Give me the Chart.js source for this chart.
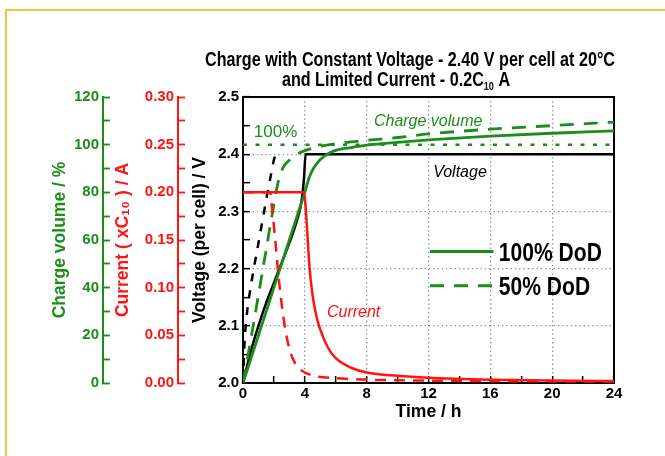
<!DOCTYPE html>
<html><head><meta charset="utf-8">
<script src="https://cdn.jsdelivr.net/npm/chart.js@4.4.1/dist/chart.umd.min.js"></script>
<style>
html,body{margin:0;padding:0;background:#fff;overflow:hidden}
#wrap{position:relative;width:665px;height:456px}
#frame{position:absolute;left:5px;top:9px;width:660px;height:447px;border-left:2px solid #f6c244;border-top:2px solid #f6c244;box-sizing:border-box}
canvas{position:absolute;left:0;top:0}
</style></head><body>
<div id="wrap"><div id="frame"></div><canvas id="c" width="665" height="456"></canvas></div>
<script>
// ---------- data ----------
const titleLine1 = 'Charge with Constant Voltage - 2.40 V per cell at 20°C';
const titleLine2 = ['and Limited Current - 0.2C', '10', ' A'];
const xTitle = 'Time / h';
const yVoltTitle = 'Voltage (per cell) / V';
const yCurTitle = 'Current ( xC₁₀ ) / A';
const yChgTitle = 'Charge volume / %';
const legendLabels = ['100% DoD', '50% DoD'];
const annotationTexts = ['Charge volume', '100%', 'Voltage', 'Current'];

// Voltage, 100% DoD
const tV100 = [0, 0.5, 1, 1.5, 2, 2.5, 3, 3.5, 3.8, 3.95, 4.05, 6, 12, 18, 24];
const vV100 = [2.0, 2.055, 2.1, 2.14, 2.175, 2.21, 2.245, 2.285, 2.32, 2.36, 2.4, 2.4, 2.4, 2.4, 2.4];
// Voltage, 50% DoD
const tV50 = [0, 0.1, 0.25, 0.45, 0.7, 1.0, 1.3, 1.6, 1.85, 2.0, 2.15, 2.25];
const vV50 = [2.0, 2.07, 2.12, 2.16, 2.2, 2.245, 2.29, 2.335, 2.37, 2.39, 2.4, 2.4];
// Charge volume (%), 100% DoD
const tC100 = [0, 1, 2, 3, 3.5, 4, 4.3, 4.6, 5, 5.5, 6, 7, 8, 10, 12, 16, 20, 24];
const cC100 = [0, 20, 40, 60, 70, 80, 86.5, 90.5, 93.8, 96.2, 97.6, 98.8, 99.8, 101, 102, 103.6, 104.8, 105.8];
// Charge volume (%), 50% DoD
const tC50 = [0, 0.5, 1, 1.5, 2, 2.3, 2.6, 3, 3.5, 4, 5, 6, 8, 10, 12, 16, 20, 24];
const cC50 = [0, 18, 37, 56, 75, 85, 90.5, 93.5, 96, 97.5, 99.3, 100.4, 101.8, 103, 104.5, 106.5, 108, 109.5];
// Current (xC10 A), 100% DoD
const tI100 = [0, 3.95, 4.05, 4.15, 4.3, 4.5, 4.75, 5, 5.5, 6, 7, 8, 10, 12, 16, 20, 24];
const iI100 = [0.2, 0.2, 0.185, 0.16, 0.122, 0.092, 0.07, 0.056, 0.037, 0.026, 0.016, 0.011, 0.0075, 0.0055, 0.0035, 0.0025, 0.002];
// Current (xC10 A), 50% DoD
const tI50 = [0, 1.75, 1.9, 2.1, 2.3, 2.5, 2.75, 3.0, 3.3, 3.8, 4.5, 6, 8, 12, 16, 24];
const iI50 = [0.2, 0.2, 0.18, 0.148, 0.112, 0.083, 0.055, 0.036, 0.023, 0.013, 0.008, 0.005, 0.0035, 0.0025, 0.002, 0.0015];
// 100 % reference line
const tRef = [0, 24];
const cRef = [100, 100];

// ---------- styles ----------
const GREEN = '#1c8c1c', RED = '#ff1414', BLACK = '#000000', GRID = '#8a8a8a';
const SANS = "'Liberation Sans', Arial, sans-serif";
const pts = (ts, vs) => ts.map((t, i) => ({x: t, y: vs[i]}));
const tickFont = {family: SANS, size: 15, weight: 'bold'};
const titleFont = {family: SANS, size: 17.5, weight: 'bold'};
const none = 'rgba(0,0,0,0)';
const noPadV = s => { s.paddingTop = 0; s.paddingBottom = 0; };

const lineCommon = {pointRadius: 0, fill: false, cubicInterpolationMode: 'monotone', borderWidth: 2.5};
const datasets = [
  {...lineCommon, label: 'Current 100% DoD', data: pts(tI100, iI100), yAxisID: 'yI', borderColor: RED},
  {...lineCommon, label: 'Current 50% DoD', data: pts(tI50, iI50), yAxisID: 'yI', borderColor: RED, borderDash: [11, 8]},
  {...lineCommon, label: 'Charge 100% DoD', data: pts(tC100, cC100), yAxisID: 'yC', borderColor: GREEN, borderWidth: 2.8},
  {...lineCommon, label: 'Charge 50% DoD', data: pts(tC50, cC50), yAxisID: 'yC', borderColor: GREEN, borderWidth: 2.8, borderDash: [14, 10]},
  {...lineCommon, label: 'Voltage 100% DoD', data: pts(tV100, vV100), yAxisID: 'yV', borderColor: BLACK},
  {...lineCommon, label: 'Voltage 50% DoD', data: pts(tV50, vV50), yAxisID: 'yV', borderColor: BLACK, borderDash: [8, 9]},
  {...lineCommon, label: '100 %', data: pts(tRef, cRef), yAxisID: 'yC', borderColor: GREEN, borderDash: [4, 8.5], borderWidth: 2.5}
];

// draw text horizontally condensed by factor k (left aligned at x)
function condensed(ctx, text, x, y, k) {
  ctx.save(); ctx.translate(x, y); ctx.scale(k, 1);
  ctx.textAlign = 'left'; ctx.fillText(text, 0, 0); ctx.restore();
}

const decor = {
  id: 'decor',
  afterDraw(chart) {
    const {ctx, scales: {x, yV}} = chart;
    ctx.save();
    ctx.textBaseline = 'alphabetic';
    // title
    ctx.fillStyle = '#000';
    const big = `bold 19.5px ${SANS}`, small = `bold 11px ${SANS}`;
    ctx.font = big;
    const wt = ctx.measureText(titleLine1).width;
    const k = 410 / wt;
    condensed(ctx, titleLine1, 410 - 205, 66, k);
    const w1 = ctx.measureText(titleLine2[0]).width * k;
    const w3 = ctx.measureText(titleLine2[2]).width * k;
    ctx.font = small;
    const w2 = ctx.measureText(titleLine2[1]).width * k;
    const sx = 396 - (w1 + w2 + w3) / 2;
    ctx.font = big; condensed(ctx, titleLine2[0], sx, 86, k);
    ctx.font = small; condensed(ctx, titleLine2[1], sx + w1, 90, k);
    ctx.font = big; condensed(ctx, titleLine2[2], sx + w1 + w2, 86, k);

    // annotations
    const ann = [
      {t: 8.47, v: 2.449, color: GREEN, font: `italic 16px ${SANS}`},
      {t: 0.7, v: 2.43, color: GREEN, font: `17px ${SANS}`},
      {t: 12.3, v: 2.361, color: BLACK, font: `italic 16px ${SANS}`},
      {t: 5.43, v: 2.116, color: RED, font: `italic 16px ${SANS}`}
    ];
    ctx.textAlign = 'left';
    ann.forEach((a, i) => {
      ctx.fillStyle = a.color; ctx.font = a.font;
      ctx.fillText(annotationTexts[i], x.getPixelForValue(a.t), yV.getPixelForValue(a.v));
    });

    // legend
    const legendDs = [2, 3];
    const legendV = [2.23, 2.17];
    ctx.font = `bold 26px ${SANS}`;
    const kl = 103 / ctx.measureText(legendLabels[0]).width;
    legendLabels.forEach((lab, i) => {
      const ds = chart.data.datasets[legendDs[i]];
      const y = yV.getPixelForValue(legendV[i]);
      ctx.strokeStyle = ds.borderColor; ctx.lineWidth = 3;
      ctx.setLineDash(ds.borderDash || []);
      ctx.beginPath();
      ctx.moveTo(x.getPixelForValue(12.1), y);
      ctx.lineTo(x.getPixelForValue(16.2), y);
      ctx.stroke();
      ctx.setLineDash([]);
      ctx.fillStyle = '#000';
      condensed(ctx, lab, x.getPixelForValue(16.55), y + 9.5, kl);
    });
    ctx.restore();
  }
};

new Chart(document.getElementById('c'), {
  type: 'line',
  data: {datasets},
  plugins: [decor],
  options: {
    responsive: false, animation: false, parsing: true,
    layout: {padding: {left: 40, right: 51, top: 97, bottom: 33}},
    plugins: {legend: {display: false}, title: {display: false}, tooltip: {enabled: false}},
    scales: {
      x: {
        type: 'linear', position: 'bottom', min: 0, max: 24,
        ticks: {stepSize: 2, autoSkip: false, maxRotation: 0, padding: 9, color: '#000', font: tickFont,
          callback: v => (Math.round(v) % 4 === 0 ? String(Math.round(v)) : '')},
        grid: {color: c => (c.tick && Math.round(c.tick.value) % 4 === 0 && c.tick.value > 0 && c.tick.value < 24) ? GRID : none,
          lineWidth: 1.3, tickLength: -7, tickColor: '#000', tickWidth: 1.5},
        border: {color: '#000', width: 2, dash: [1.3, 3]},
        title: {display: true, text: xTitle, color: '#000', font: titleFont, padding: {top: 0, bottom: 0}},
        afterFit: s => { s.height = 40; s.paddingLeft = 0; s.paddingRight = 0; }
      },
      x2: {
        type: 'linear', position: 'top', min: 0, max: 24,
        ticks: {display: false}, grid: {display: false}, border: {color: '#000', width: 2},
        afterFit: s => { s.height = 0; s.paddingLeft = 0; s.paddingRight = 0; }
      },
      yV: {
        type: 'linear', position: 'left', weight: 0, min: 2.0, max: 2.5,
        ticks: {stepSize: 0.05, autoSkip: false, padding: 11, color: '#000', font: tickFont,
          callback: v => (Math.round(v * 100) % 10 === 0 ? v.toFixed(1) : '')},
        grid: {color: c => {
            if (!c.tick) return none;
            const q = Math.round(c.tick.value * 100);
            return (q % 10 === 0 && q > 200 && q < 250) ? GRID : none;
          }, lineWidth: 1.3, tickLength: -7, tickColor: '#000', tickWidth: 1.5},
        border: {color: '#000', width: 2, dash: [1.3, 3]},
        title: {display: true, text: yVoltTitle, color: '#000', font: titleFont, padding: {top: 11.5, bottom: 0}},
        afterFit: s => { s.width = 65; noPadV(s); }
      },
      yI: {
        type: 'linear', position: 'left', weight: 1, min: 0, max: 0.3,
        ticks: {stepSize: 0.025, autoSkip: false, padding: 11, color: RED, font: tickFont,
          callback: v => (Math.round(v * 1000) % 50 === 0 ? v.toFixed(2) : '')},
        grid: {drawOnChartArea: false, tickLength: -7, tickColor: RED, tickWidth: 1.8},
        border: {color: RED, width: 2},
        title: {display: true, text: yCurTitle, color: RED, font: titleFont, padding: {top: 9.5, bottom: 0}},
        afterFit: s => { s.width = 75; noPadV(s); }
      },
      yC: {
        type: 'linear', position: 'left', weight: 2, min: 0, max: 120,
        ticks: {stepSize: 10, autoSkip: false, padding: 11, color: GREEN, font: tickFont,
          callback: v => (Math.round(v) % 20 === 0 ? String(Math.round(v)) : '')},
        grid: {drawOnChartArea: false, tickLength: -7, tickColor: GREEN, tickWidth: 1.8},
        border: {color: GREEN, width: 2},
        title: {display: true, text: yChgTitle, color: GREEN, font: titleFont, padding: {top: 9.5, bottom: 0}},
        afterFit: s => { s.width = 63; noPadV(s); }
      },
      yR: {
        type: 'linear', position: 'right', min: 0, max: 1,
        ticks: {display: false}, grid: {display: false}, border: {color: '#000', width: 2},
        afterFit: s => { s.width = 0; noPadV(s); }
      }
    }
  }
});
</script></body></html>
